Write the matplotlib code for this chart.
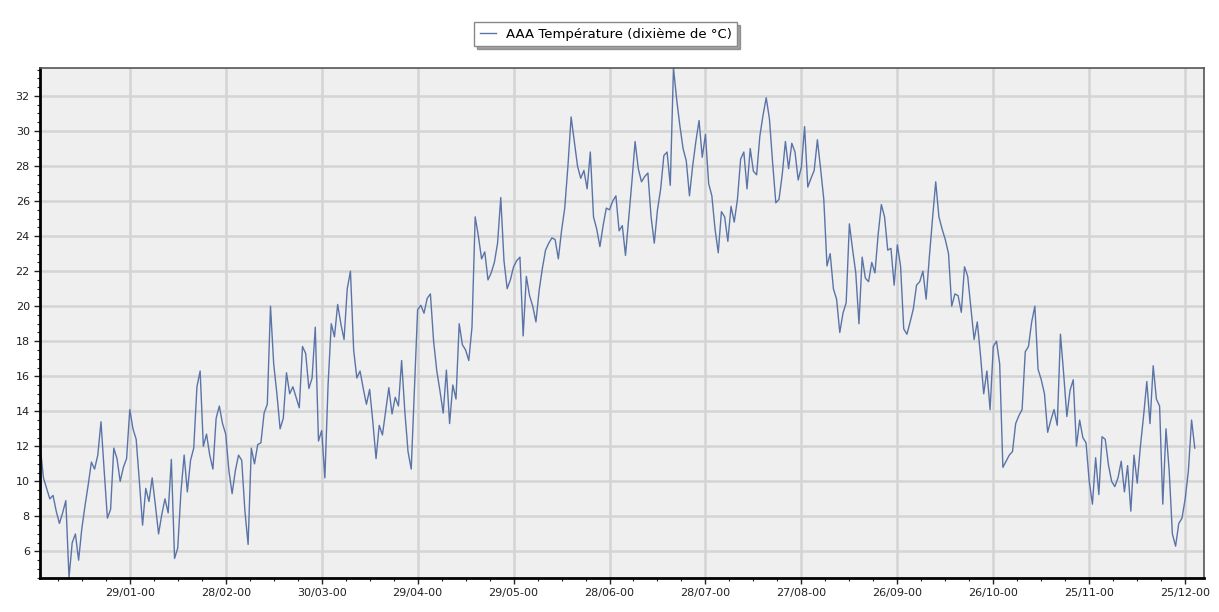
import matplotlib
matplotlib.use("Agg")
import matplotlib.pyplot as plt
import matplotlib.dates as mdates
import pandas as pd

# daily values, starting 01/01 (year printed as "00")
temp = [
    12.0, 10.2, 9.6, 9.0, 9.2, 8.3, 7.6, 8.2, 8.9, 4.5,
    6.5, 7.0, 5.5, 7.3, 8.6, 9.8, 11.1, 10.7, 11.5, 13.4,
    10.6, 7.9, 8.4, 11.9, 11.3, 10.0, 10.8, 11.3, 14.1, 13.0,
    12.4, 10.0, 7.5, 9.6, 8.85, 10.2, 8.65, 7.0, 8.1, 9.0,
    8.2, 11.25, 5.6, 6.2, 9.4, 11.5, 9.4, 11.2, 11.9, 15.4,
    16.3, 12.0, 12.7, 11.5, 10.7, 13.6, 14.3, 13.3, 12.7, 10.6,
    9.3, 10.6, 11.5, 11.2, 8.3, 6.4, 11.9, 11.0, 12.1, 12.2,
    13.9, 14.4, 20.0, 16.7, 15.0, 13.0, 13.6, 16.2, 15.0, 15.4,
    14.8, 14.2, 17.7, 17.3, 15.3, 15.9, 18.8, 12.3, 12.9, 10.2,
    15.5, 19.0, 18.25, 20.1, 19.0, 18.1, 21.0, 22.0, 17.5, 15.9,
    16.3, 15.3, 14.4, 15.25, 13.4, 11.3, 13.2, 12.65, 14.0, 15.35,
    13.85, 14.8, 14.3, 16.9, 14.0, 11.7, 10.7, 15.3, 19.8, 20.05,
    19.6, 20.45, 20.7, 18.0, 16.3, 15.15, 13.9, 16.35, 13.3, 15.5,
    14.7, 19.0, 17.8, 17.5, 16.9, 18.8, 25.1, 24.0, 22.7, 23.1,
    21.5, 21.9, 22.5, 23.6, 26.2, 22.6, 21.0, 21.5, 22.25, 22.6,
    22.8, 18.3, 21.7, 20.6, 20.0, 19.1, 20.9, 22.15, 23.2, 23.6,
    23.9, 23.8, 22.7, 24.3, 25.6, 28.0, 30.8, 29.4, 28.0, 27.3,
    27.75, 26.7, 28.8, 25.1, 24.4, 23.4, 24.6, 25.6, 25.5, 26.0,
    26.3, 24.3, 24.6, 22.9, 25.0, 27.1, 29.4, 27.85, 27.1, 27.4,
    27.6, 25.1, 23.6, 25.5, 26.7, 28.6, 28.8, 26.9, 33.6, 31.8,
    30.3, 29.0, 28.3, 26.3, 28.0, 29.4, 30.6, 28.5, 29.8, 27.0,
    26.3, 24.4, 23.05, 25.4, 25.1, 23.7, 25.7, 24.8, 26.1, 28.4,
    28.8, 26.7, 29.0, 27.7, 27.5, 29.7, 30.9, 31.9, 30.7, 28.2,
    25.9, 26.1, 27.5, 29.4, 27.85, 29.3, 28.8, 27.2, 27.95, 30.25,
    26.8, 27.3, 27.75, 29.5, 27.85, 26.1, 22.3, 23.0, 21.0, 20.4,
    18.5, 19.6, 20.2, 24.7, 23.25, 21.9, 19.0, 22.8, 21.6, 21.4,
    22.5, 21.9, 24.1, 25.8, 25.1, 23.2, 23.3, 21.2, 23.5, 22.3,
    18.7, 18.4, 19.1, 19.85, 21.2, 21.4, 22.0, 20.4, 22.8, 25.0,
    27.1, 25.1, 24.4, 23.8, 23.0, 20.0, 20.7, 20.6, 19.65, 22.25,
    21.7, 19.9, 18.1, 19.1, 17.2, 15.0, 16.3, 14.1, 17.7, 18.0,
    16.7, 10.8, 11.15, 11.5, 11.7, 13.3, 13.75, 14.1, 17.4, 17.7,
    19.1, 20.0, 16.4, 15.8, 15.0, 12.8, 13.5, 14.1, 13.2, 18.4,
    16.15, 13.7, 15.2, 15.8, 12.0, 13.5, 12.5, 12.2, 10.0, 8.7,
    11.35, 9.25, 12.55, 12.4, 10.95, 10.0, 9.7, 10.2, 11.15, 9.4,
    10.9, 8.3, 11.5, 9.9, 12.0, 13.75, 15.7, 13.3, 16.6, 14.7,
    14.3, 8.7, 13.0, 10.6, 7.0, 6.3, 7.6, 7.9, 9.0, 10.6,
    13.5, 11.9,
]
dates = pd.date_range("1900-01-01", periods=len(temp), freq="D")
label = "AAA Température (dixième de °C)"
major_dates = pd.date_range("1900-01-29", periods=12, freq="30D")
minor_dates = pd.date_range("1900-01-06 12:00", "1900-12-31", freq="180h")

fig = plt.figure(figsize=(12.19, 6.12), dpi=100)
ax = fig.add_axes([0.033, 0.056, 0.955, 0.833])
ax.set_facecolor("#efefef")

line, = ax.plot(dates, temp, color="#5a74a8", linewidth=1.0, label=label)

ax.set_xlim(pd.Timestamp("1900-01-01"), pd.Timestamp("1900-12-31"))
ax.set_ylim(min(temp), max(temp))
ax.set_xticks(major_dates)
ax.set_xticks(minor_dates, minor=True)
ax.xaxis.set_major_formatter(mdates.DateFormatter("%d/%m-%y"))
ax.yaxis.set_major_locator(plt.MultipleLocator(2))
ax.yaxis.set_minor_locator(plt.MultipleLocator(0.5))

ax.grid(True, which="major", color="#d4d4d4", linewidth=1.8)
ax.set_axisbelow(True)
ax.tick_params(which="both", labelsize=8, colors="#222222")
ax.tick_params(which="major", length=4, width=1)
ax.tick_params(which="minor", length=2.5, width=0.8)

for side in ["left", "bottom"]:
    ax.spines[side].set_linewidth(2)
    ax.spines[side].set_color("black")
for side in ["top", "right"]:
    ax.spines[side].set_linewidth(1.2)
    ax.spines[side].set_color("#555555")

fig.legend(handles=[line], loc="center", bbox_to_anchor=(0.497, 0.944),
           fontsize=9.5, handlelength=1.2, fancybox=False, shadow=True,
           edgecolor="#888888", framealpha=1, borderpad=0.4)

fig.savefig("out.png", dpi=100, facecolor="white")
